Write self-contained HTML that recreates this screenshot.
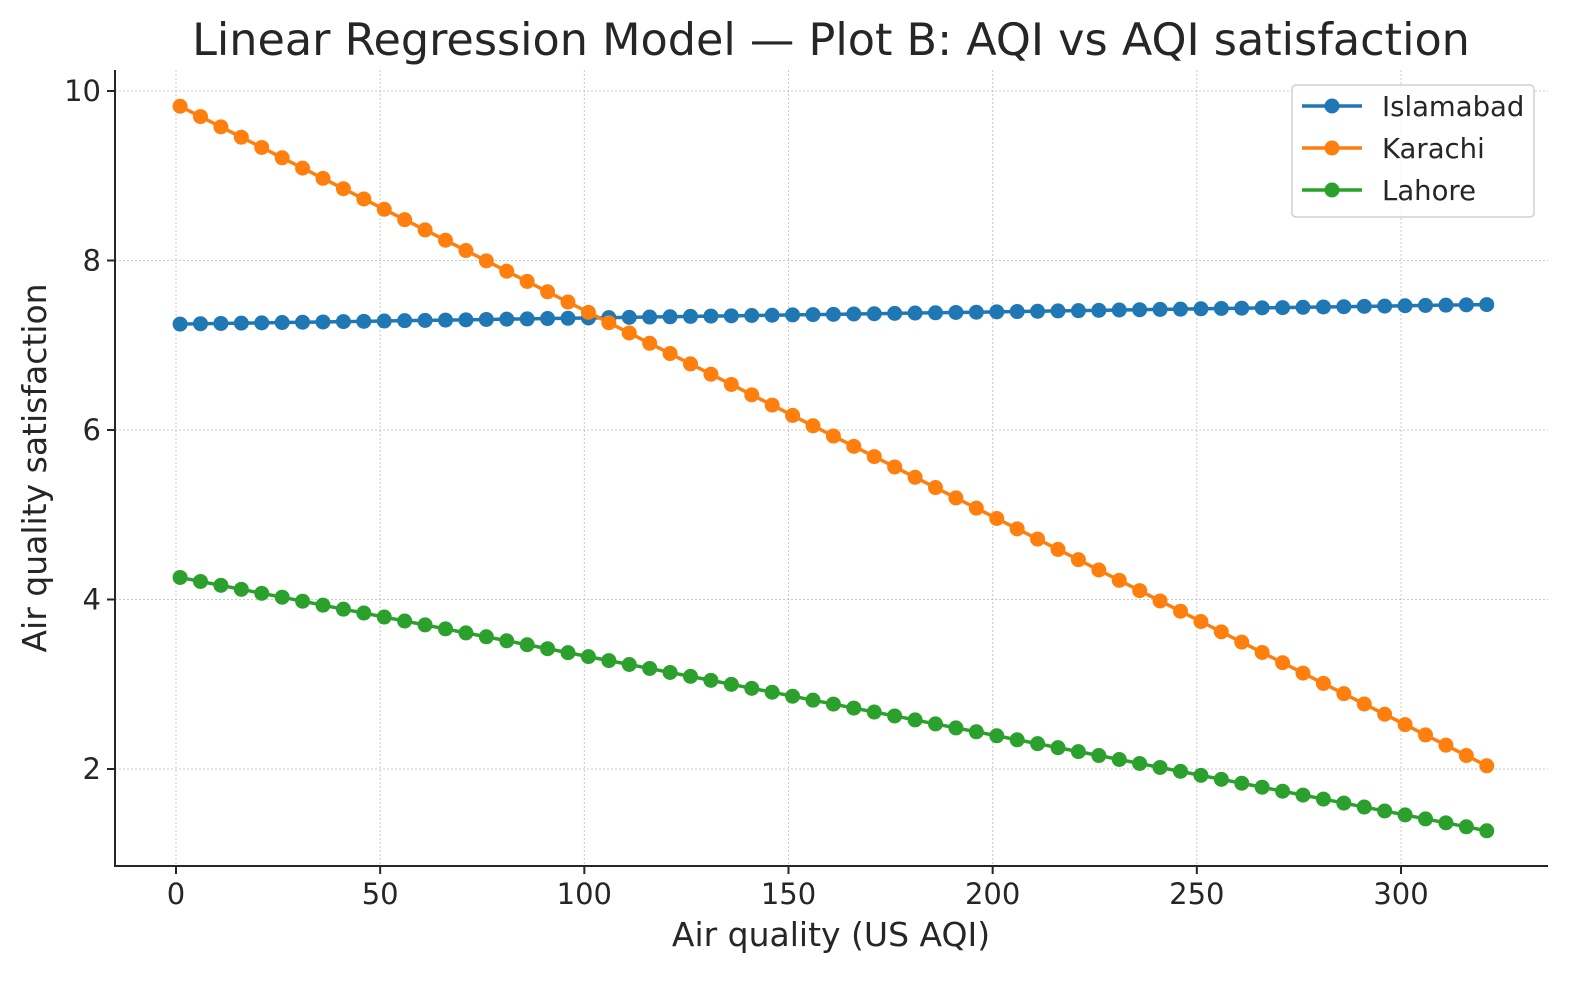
<!DOCTYPE html>
<html><head><meta charset="utf-8"><style>
body{margin:0;background:#fff;}
svg text{font-family:"DejaVu Sans","Liberation Sans",sans-serif;fill:#262626;}
</style></head><body>
<svg id="chart" width="1580" height="980" xmlns="http://www.w3.org/2000/svg"></svg>
<script>
const xs=[1,6,11,16,21,26,31,36,41,46,51,56,61,66,71,76,81,86,91,96,101,106,111,116,121,126,131,136,141,146,151,156,161,166,171,176,181,186,191,196,201,206,211,216,221,226,231,236,241,246,251,256,261,266,271,276,281,286,291,296,301,306,311,316,321];
const islamabad=[7.250,7.254,7.257,7.261,7.264,7.268,7.272,7.275,7.279,7.282,7.286,7.290,7.293,7.297,7.300,7.304,7.308,7.311,7.315,7.318,7.322,7.326,7.329,7.333,7.336,7.340,7.344,7.347,7.351,7.354,7.358,7.362,7.365,7.369,7.372,7.376,7.380,7.383,7.387,7.390,7.394,7.398,7.401,7.405,7.408,7.412,7.416,7.419,7.423,7.426,7.430,7.434,7.437,7.441,7.444,7.448,7.452,7.455,7.459,7.462,7.466,7.470,7.473,7.477,7.480];
const karachi=[9.82,9.698,9.577,9.455,9.334,9.212,9.090,8.969,8.847,8.726,8.604,8.482,8.361,8.239,8.118,7.996,7.874,7.753,7.631,7.510,7.388,7.266,7.145,7.023,6.902,6.780,6.658,6.537,6.415,6.294,6.172,6.050,5.929,5.807,5.686,5.564,5.442,5.321,5.199,5.078,4.956,4.834,4.713,4.591,4.470,4.348,4.226,4.105,3.983,3.862,3.740,3.618,3.497,3.375,3.254,3.132,3.010,2.889,2.767,2.646,2.524,2.402,2.281,2.159,2.038];
const lahore=[4.260,4.213,4.167,4.120,4.073,4.027,3.980,3.933,3.886,3.840,3.793,3.746,3.700,3.653,3.606,3.560,3.513,3.466,3.419,3.373,3.326,3.279,3.233,3.186,3.139,3.093,3.046,2.999,2.952,2.906,2.859,2.812,2.766,2.719,2.672,2.626,2.579,2.532,2.485,2.439,2.392,2.345,2.299,2.252,2.205,2.159,2.112,2.065,2.018,1.972,1.925,1.878,1.832,1.785,1.738,1.692,1.645,1.598,1.551,1.505,1.458,1.411,1.365,1.318,1.271];
const xTicks=[0,50,100,150,200,250,300];
const yTicks=[2,4,6,8,10];
const seriesNames=["Islamabad","Karachi","Lahore"];
const colors=["#1f77b4","#ff7f0e","#2ca02c"];

const L=115,R=1548,T=70,B=866;
const X=v=>176+(v-0)*(1401-176)/300;
const Y=v=>769-(v-2)*(769-91)/8;
const svg=document.getElementById('chart');
const NS="http://www.w3.org/2000/svg";
function mk(tag,attrs,parent){const e=document.createElementNS(NS,tag);for(const k in attrs)e.setAttribute(k,attrs[k]);(parent||svg).appendChild(e);return e;}

const grid=mk('g',{});


xTicks.forEach(t=>{const l=mk('line',{x1:X(t),x2:X(t),y1:T,y2:B,stroke:'#b0b0b0','stroke-width':1,'stroke-dasharray':'2,2','stroke-opacity':0.7},grid);

});
yTicks.forEach(t=>{const l=mk('line',{x1:L,x2:R,y1:Y(t),y2:Y(t),stroke:'#b0b0b0','stroke-width':1,'stroke-dasharray':'2,2','stroke-opacity':0.7},grid);

});

const sets=[islamabad,karachi,lahore];
sets.forEach((d,si)=>{
  const g=mk('g',{});
  
  
  const p=mk('polyline',{points:xs.map((x,i)=>X(x)+','+Y(d[i])).join(' '),fill:'none',stroke:colors[si],'stroke-width':3.5},g);
  
  
  xs.forEach((x,i)=>{const c=mk('circle',{cx:X(x),cy:Y(d[i]),r:7.5,fill:colors[si]},g);
    
    });
});

const ax=mk('path',{d:`M${L},${T}V${B}H${R}`,fill:'none',stroke:'#262626','stroke-width':2});


xTicks.forEach(t=>{mk('line',{x1:X(t),x2:X(t),y1:B,y2:B+8,stroke:'#262626','stroke-width':2});
  const tx=mk('text',{x:X(t),y:B+38,'text-anchor':'middle','font-size':29});tx.textContent=t;
  
  });
yTicks.forEach(t=>{mk('line',{x1:L-8,x2:L,y1:Y(t),y2:Y(t),stroke:'#262626','stroke-width':2});
  const tx=mk('text',{x:L-14,y:Y(t)+10,'text-anchor':'end','font-size':29});tx.textContent=t;
  
  });

let t=mk('text',{x:831,y:55,'text-anchor':'middle','font-size':44.5});t.textContent='Linear Regression Model — Plot B: AQI vs AQI satisfaction';


t=mk('text',{x:831,y:946,'text-anchor':'middle','font-size':33});t.textContent='Air quality (US AQI)';


t=mk('text',{x:46,y:468,'text-anchor':'middle','font-size':33,transform:'rotate(-90 46 468)'});t.textContent='Air quality satisfaction';



const lg=mk('g',{});


mk('rect',{x:1292,y:85,width:242,height:132,rx:4,fill:'#fff','fill-opacity':0.8,stroke:'#d0d0d0','stroke-width':1.5},lg);
seriesNames.forEach((n,i)=>{
  const e=mk('g',{},lg);
  
  
  const y=106+i*42;
  mk('line',{x1:1302,x2:1362,y1:y,y2:y,stroke:colors[i],'stroke-width':3.5},e);
  mk('circle',{cx:1332,cy:y,r:7.5,fill:colors[i]},e);
  const tx=mk('text',{x:1382,y:y+10,'font-size':27.5},e);tx.textContent=n;
});
</script>
</body></html>
